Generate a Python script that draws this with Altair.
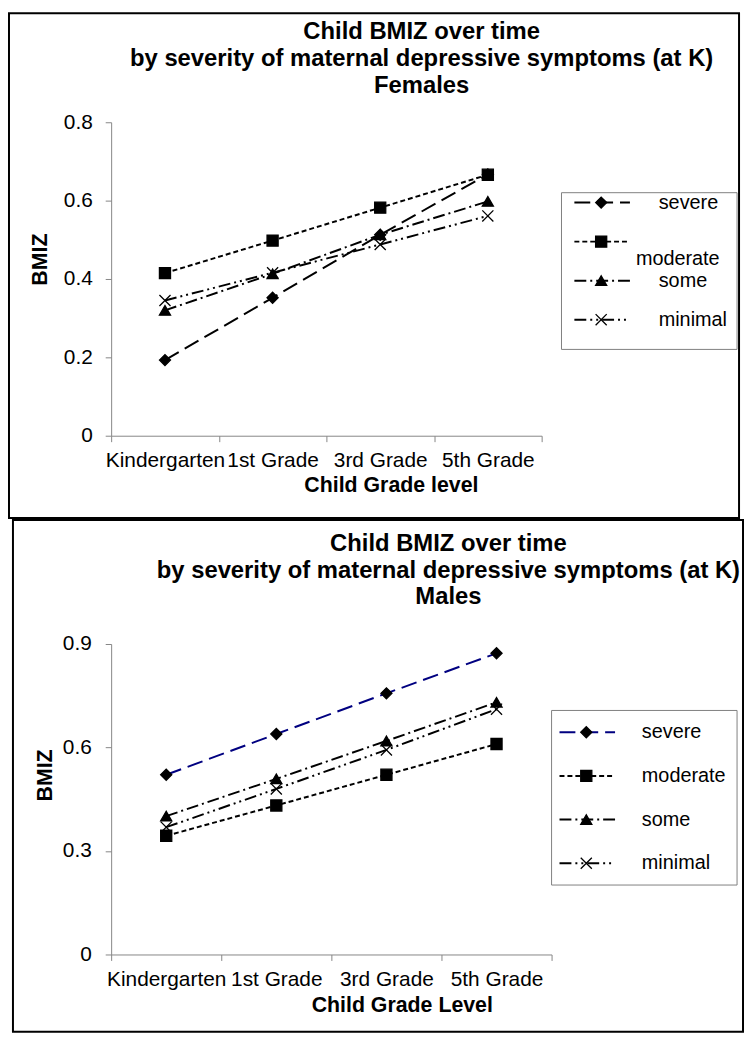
import altair as alt
import pandas as pd

# ---------------- data ----------------
GRADES = ["Kindergarten", "1st Grade", "3rd Grade", "5th Grade"]
SERIES = ["severe", "moderate", "some", "minimal"]

F_SEVERE = [0.193, 0.352, 0.513, 0.667]
F_MODERATE = [0.415, 0.498, 0.582, 0.666]
F_SOME = [0.320, 0.413, 0.513, 0.598]
F_MINIMAL = [0.345, 0.416, 0.488, 0.561]

M_SEVERE = [0.521, 0.639, 0.757, 0.873]
M_MODERATE = [0.344, 0.432, 0.521, 0.610]
M_SOME = [0.401, 0.509, 0.619, 0.731]
M_MINIMAL = [0.369, 0.480, 0.593, 0.711]

F_TITLE = ["Child BMIZ over time",
           "by severity of maternal depressive symptoms (at K)",
           "Females"]
M_TITLE = ["Child BMIZ over time",
           "by severity of maternal depressive symptoms (at K)",
           "Males"]
F_XTITLE = "Child Grade level"
M_XTITLE = "Child Grade Level"
Y_TITLE = "BMIZ"
F_YTICKS = [0, 0.2, 0.4, 0.6, 0.8]
M_YTICKS = [0, 0.3, 0.6, 0.9]

# ---------------- styles ----------------
FONT = "Liberation Sans, Arial, sans-serif"
AXIS_GRAY = "#868686"
DASHES = [[16, 7], [5, 3], [12, 4, 2, 4], [12, 4, 2, 4, 2, 4]]
X_PATH = "M-1,-1L1,1M-1,1L1,-1"
SHAPES = ["diamond", "square", "triangle-up", X_PATH]
F_COLORS = ["black", "black", "black", "black"]
M_COLORS = ["#000080", "black", "black", "black"]
MARK_SIZE = 125

# layout in page pixels
F_LAYOUT = dict(border=(9, 9, 745, 518), origin=(112, 119), plot=(434, 316),
                title_x=425, title_y=[35, 62, 89],
                xtitle=(394, 485), ytitle=(41, 257), xlabpad=19, ylabpad=13,
                box=(566, 190, 743, 348), rows=(200, 318),
                line=(579, 635), marker=606, text=664,
                special={"moderate": (641, 18)})
M_LAYOUT = dict(border=(9, 520, 745, 1036), origin=(108, 645), plot=(444, 313),
                title_x=448, title_y=[551, 578, 605],
                xtitle=(401, 1009), ytitle=(42, 777), xlabpad=19, ylabpad=14,
                box=(552, 712, 739, 888), rows=(734, 866),
                line=(560, 616), marker=587, text=643,
                special={})


def build_panel(values, title_lines, x_title, y_max, y_ticks, colors, lay):
    ox, oy = lay["origin"]
    W, H = lay["plot"]

    def px(v):
        return v - ox

    def py(v):
        return v - oy

    df = pd.DataFrame([
        {"grade": g, "series": s, "bmiz": v}
        for s, vs in zip(SERIES, values) for g, v in zip(GRADES, vs)
    ])
    leg = pd.DataFrame({"series": SERIES})
    one = pd.DataFrame({"k": [0]})

    color = alt.Color("series:N", scale=alt.Scale(domain=SERIES, range=colors), legend=None)
    dash = alt.StrokeDash("series:N", scale=alt.Scale(domain=SERIES, range=DASHES), legend=None)
    shape = alt.Shape("series:N", scale=alt.Scale(domain=SERIES, range=SHAPES), legend=None)

    x = alt.X(
        "grade:N", sort=GRADES,
        scale=alt.Scale(type="band", domain=GRADES, paddingInner=0, paddingOuter=0),
        axis=alt.Axis(
            title=x_title, labelAngle=0, labelFontSize=21, labelColor="black",
            labelFont=FONT, labelBaseline="middle", labelPadding=lay["xlabpad"],
            labelOverlap=False, labelLimit=400, tickBand="extent", tickSize=6,
            tickColor=AXIS_GRAY, domainColor=AXIS_GRAY, grid=False,
            titleFont=FONT, titleFontSize=21.5, titleFontWeight="bold",
            titleColor="black", titleX=px(lay["xtitle"][0]),
            titleY=lay["xtitle"][1] - (oy + H),
            titleBaseline="middle", titleAlign="center",
        ),
    )
    y = alt.Y(
        "bmiz:Q",
        scale=alt.Scale(domain=[0, y_max], nice=False, zero=True),
        axis=alt.Axis(
            title=Y_TITLE, values=y_ticks, format="~g", labelFontSize=21,
            labelColor="black", labelFont=FONT, labelPadding=lay["ylabpad"],
            tickSize=6, tickColor=AXIS_GRAY, domainColor=AXIS_GRAY, grid=False,
            titleFont=FONT, titleFontSize=21.5, titleFontWeight="bold",
            titleColor="black", titleAngle=270,
            titleX=px(lay["ytitle"][0]), titleY=py(lay["ytitle"][1]),
            titleBaseline="middle", titleAlign="center",
        ),
    )

    base = alt.Chart(df)
    lines = base.mark_line(strokeWidth=2).encode(
        x=x, y=y, color=color, strokeDash=dash, detail="series:N")
    pts = base.mark_point(filled=True, fill="black", stroke="black", strokeWidth=1.3,
                          size=MARK_SIZE, opacity=1).encode(x=x, y=y, shape=shape)
    data_layer = alt.layer(lines, pts)

    bx0, by0, bx1, by1 = lay["border"]
    border = alt.Chart(one).mark_rect(fillOpacity=0, stroke="black", strokeWidth=2).encode(
        x=alt.value(px(bx0)), x2=alt.value(px(bx1)), y=alt.value(py(by0)), y2=alt.value(py(by1)))

    gx0, gy0, gx1, gy1 = lay["box"]
    box = alt.Chart(one).mark_rect(fillOpacity=0, stroke="#808080", strokeWidth=1).encode(
        x=alt.value(px(gx0)), x2=alt.value(px(gx1)), y=alt.value(py(gy0)), y2=alt.value(py(gy1)))

    ly = alt.Y("series:N", axis=None,
               scale=alt.Scale(type="point", domain=SERIES, padding=0,
                               range=[py(lay["rows"][0]), py(lay["rows"][1])]))
    lrule = alt.Chart(leg).mark_rule(strokeWidth=2).encode(
        x=alt.value(px(lay["line"][0])), x2=alt.value(px(lay["line"][1])),
        y=ly, color=color, strokeDash=dash)
    lpts = alt.Chart(leg).mark_point(filled=True, fill="black", stroke="black", strokeWidth=1.3,
                                     size=MARK_SIZE, opacity=1).encode(
        x=alt.value(px(lay["marker"])), y=ly, shape=shape)

    layers = [border, data_layer, box, lrule, lpts]
    special = lay["special"]
    normal = [s for s in SERIES if s not in special]
    ltxt = alt.Chart(leg).mark_text(align="left", baseline="middle", fontSize=20,
                                    font=FONT, color="black").encode(
        x=alt.value(px(lay["text"])), y=ly, text="series:N"
    ).transform_filter(alt.FieldOneOfPredicate(field="series", oneOf=normal))
    layers.append(ltxt)
    for s, (tx, ddy) in special.items():
        layers.append(
            alt.Chart(leg).mark_text(align="left", baseline="middle", fontSize=20,
                                     font=FONT, color="black", dy=ddy).encode(
                x=alt.value(px(tx)), y=ly, text="series:N"
            ).transform_filter(alt.FieldEqualPredicate(field="series", equal=s))
        )

    for line, ty in zip(title_lines, lay["title_y"]):
        layers.append(
            alt.Chart(pd.DataFrame({"t": [line]})).mark_text(
                align="center", baseline="alphabetic", fontSize=24, fontWeight="bold",
                font=FONT, color="black").encode(
                x=alt.value(px(lay["title_x"])), y=alt.value(py(ty)), text="t:N")
        )

    return alt.layer(*layers).resolve_scale(y="independent").properties(width=W, height=H)


female = build_panel([F_SEVERE, F_MODERATE, F_SOME, F_MINIMAL], F_TITLE, F_XTITLE,
                     0.8, F_YTICKS, F_COLORS, F_LAYOUT)
male = build_panel([M_SEVERE, M_MODERATE, M_SOME, M_MINIMAL], M_TITLE, M_XTITLE,
                   0.9, M_YTICKS, M_COLORS, M_LAYOUT)

chart = alt.vconcat(female, male, spacing=0).resolve_scale(
    color="independent", shape="independent", strokeDash="independent"
).properties(padding=0, background="white").configure_view(strokeWidth=0)

chart.save("out.html", embed_options={"renderer": "svg", "actions": False})
